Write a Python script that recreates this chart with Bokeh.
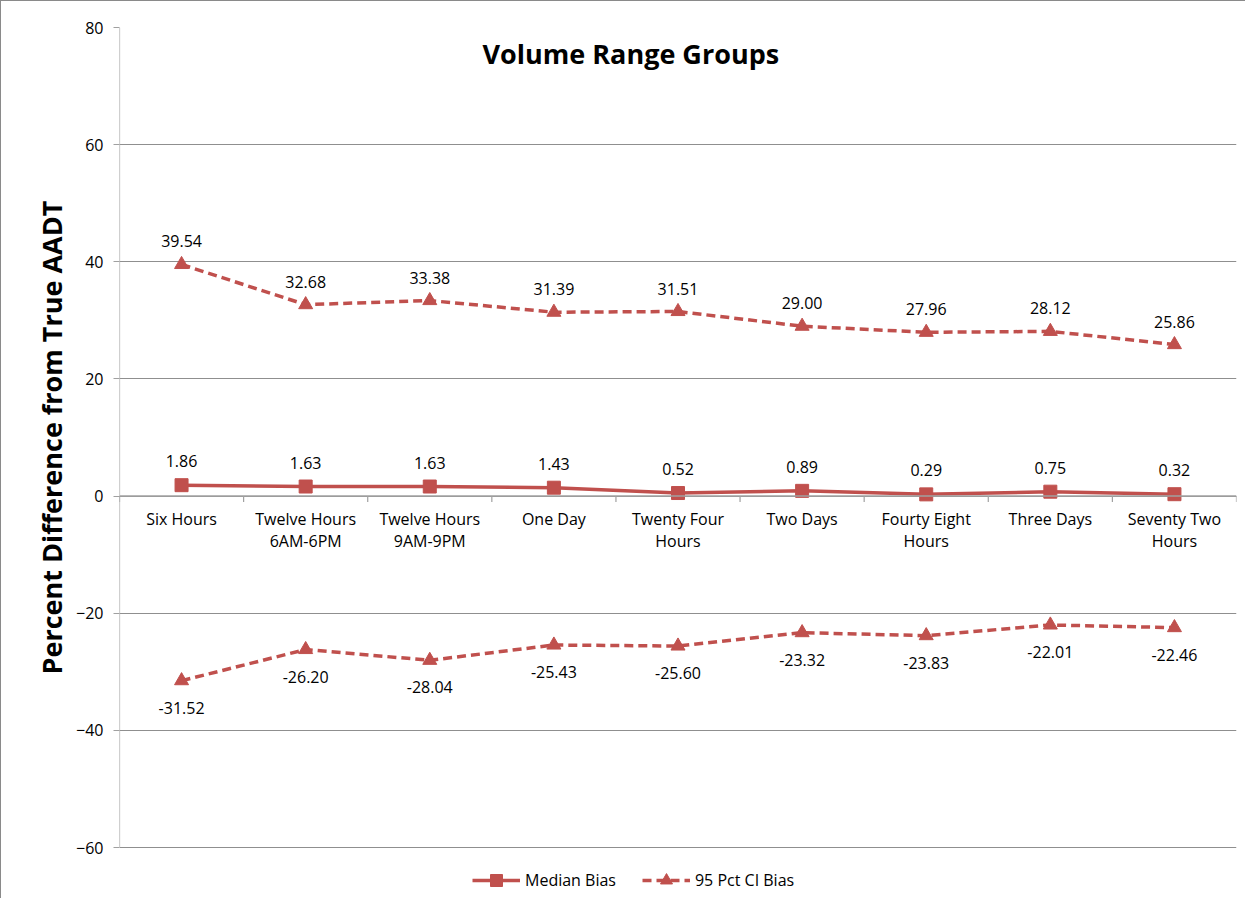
from bokeh.plotting import figure
from bokeh.models import (ColumnDataSource, FixedTicker, Legend, LegendItem, Label,
                          Range1d, LabelSet, Span, Title)
from bokeh.core.properties import value
from bokeh.embed import file_html
from bokeh.resources import INLINE

categories = ["Six Hours", "Twelve Hours\n6AM-6PM", "Twelve Hours\n9AM-9PM", "One Day",
              "Twenty Four\nHours", "Two Days", "Fourty Eight\nHours", "Three Days",
              "Seventy Two\nHours"]
median_bias = [1.86, 1.63, 1.63, 1.43, 0.52, 0.89, 0.29, 0.75, 0.32]
ci_upper = [39.54, 32.68, 33.38, 31.39, 31.51, 29.00, 27.96, 28.12, 25.86]
ci_lower = [-31.52, -26.20, -28.04, -25.43, -25.60, -23.32, -23.83, -22.01, -22.46]
y_ticks = [-60, -40, -20, 0, 20, 40, 60, 80]

RED = "#C0504D"
FONT = "Open Sans"
GRID = "#8f8f8f"
AXIS = "#a0a0a0"

W, H = 1245, 898
BL, BR, BT = 118, 10, 26
PLOT_H = 820          # pixel height of the -60..80 value area
LEGEND_ROOM = H - BT - PLOT_H

n = len(categories)
xs = [i + 0.5 for i in range(n)]

px_per_unit = PLOT_H / (y_ticks[-1] - y_ticks[0])
y_min = y_ticks[0] - LEGEND_ROOM / px_per_unit

p = figure(width=W, height=H, output_backend="svg", toolbar_location=None,
           x_range=Range1d(0, n), y_range=Range1d(y_min, y_ticks[-1]),
           x_axis_location=None,
           min_border_left=BL, min_border_right=BR, min_border_top=BT, min_border_bottom=0)
p.outline_line_color = None
p.background_fill_color = "white"
p.border_fill_color = "white"
p.styles = {"border-left": "1px solid #8a8a8a", "border-top": "1px solid #8a8a8a"}

# y axis
p.yaxis.ticker = FixedTicker(ticks=y_ticks, minor_ticks=[])
p.yaxis.axis_line_color = None
p.yaxis.major_tick_line_color = AXIS
p.yaxis.major_tick_out = 6
p.yaxis.major_tick_in = 0
p.yaxis.minor_tick_line_color = None
p.yaxis.major_label_text_font = FONT
p.yaxis.major_label_text_font_size = "16px"
p.yaxis.major_label_text_color = "black"
p.yaxis.major_label_standoff = 10
p.segment(x0=[0], y0=[y_ticks[0]], x1=[0], y1=[y_ticks[-1]], line_color=AXIS, line_width=1.2)

p.add_layout(Title(text="Percent Difference from True AADT", align="left",
                   offset=H - 673, text_font=FONT, text_font_size="27px",
                   text_font_style="bold", text_color="black", standoff=8), "left")

p.ygrid.ticker = FixedTicker(ticks=y_ticks)
p.ygrid.grid_line_color = GRID
p.ygrid.grid_line_width = 1
p.xgrid.grid_line_color = None

# category axis drawn along y = 0
p.add_layout(Span(location=0, dimension="width", line_color=AXIS, line_width=1.5))
tick_len = 6 / px_per_unit
bounds = list(range(n + 1))
p.segment(x0=bounds, y0=[0] * len(bounds), x1=bounds, y1=[-tick_len] * len(bounds),
          line_color=AXIS, line_width=1.2)
first_lines = [c.split("\n")[0] for c in categories]
second_lines = [c.split("\n")[1] if "\n" in c else "" for c in categories]
for lines, off in [(first_lines, -23), (second_lines, -45)]:
    src_cat = ColumnDataSource(dict(x=xs, y=[0] * n, t=lines))
    p.add_layout(LabelSet(x="x", y="y", text="t", source=src_cat, y_offset=off,
                          text_align="center", text_baseline="middle",
                          text_font=value(FONT), text_font_size=value("16px"),
                          text_color="black"))

src_med = ColumnDataSource(dict(x=xs, y=median_bias, t=[f"{v:.2f}" for v in median_bias]))
src_up = ColumnDataSource(dict(x=xs, y=ci_upper, t=[f"{v:.2f}" for v in ci_upper]))
src_lo = ColumnDataSource(dict(x=xs, y=ci_lower, t=[f"{v:.2f}" for v in ci_lower]))

l_med = p.line("x", "y", source=src_med, line_color=RED, line_width=3.5)
s_med = p.scatter("x", "y", source=src_med, marker="square", size=13, color=RED)
l_up = p.line("x", "y", source=src_up, line_color=RED, line_width=3.5, line_dash="9 5")
s_up = p.scatter("x", "y", source=src_up, marker="triangle", size=14, color=RED)
l_lo = p.line("x", "y", source=src_lo, line_color=RED, line_width=3.5, line_dash="9 5")
s_lo = p.scatter("x", "y", source=src_lo, marker="triangle", size=14, color=RED)

for src, off in [(src_med, 24), (src_up, 23), (src_lo, -27)]:
    p.add_layout(LabelSet(x="x", y="y", text="t", source=src, y_offset=off,
                          text_align="center", text_baseline="middle",
                          text_font=value(FONT), text_font_size=value("16px"),
                          text_color="black"))

p.add_layout(Label(x=4.12, y=75.5, text="Volume Range Groups", text_align="center",
                   text_baseline="middle", text_font=FONT, text_font_size="27px",
                   text_font_style="bold", text_color="black"))

legend = Legend(items=[LegendItem(label="Median Bias", renderers=[l_med, s_med]),
                       LegendItem(label="95 Pct CI Bias", renderers=[l_up, s_up])],
                orientation="horizontal", location=(353, 4),
                label_text_font=FONT, label_text_font_size="16px", label_text_color="black",
                glyph_width=48, glyph_height=30, spacing=26, padding=2, margin=0,
                border_line_color=None, background_fill_alpha=0, label_standoff=5)
p.add_layout(legend, "center")

open("out.html", "w").write(file_html(p, INLINE))
